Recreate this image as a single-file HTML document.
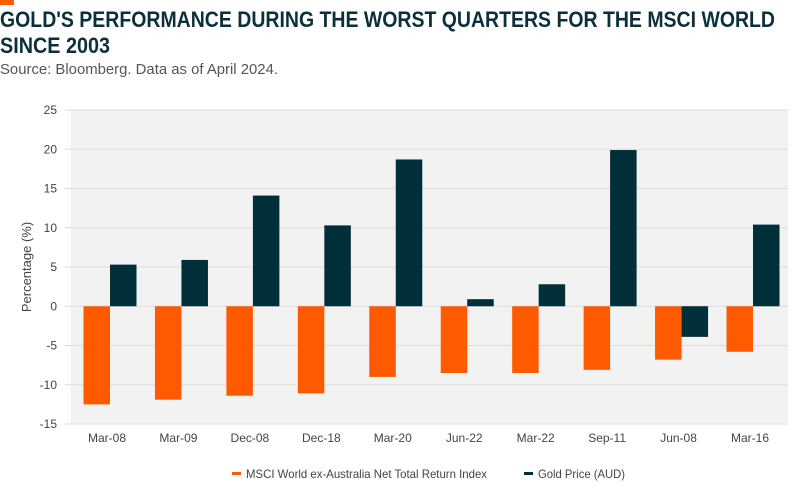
<!DOCTYPE html>
<html><head><meta charset="utf-8"><style>
body{margin:0;background:#fff;}
svg{display:block;font-family:"Liberation Sans",sans-serif;}
</style></head><body>
<svg id="c" width="800" height="500" viewBox="0 0 800 500">
<rect x="0" y="0" width="14" height="5" fill="#ff5a00"/>
<text x="0" y="27" font-size="22" font-weight="bold" fill="#0d2f3a" font-family="Liberation Sans Narrow, Liberation Sans, sans-serif" textLength="775" lengthAdjust="spacingAndGlyphs">GOLD'S PERFORMANCE DURING THE WORST QUARTERS FOR THE MSCI WORLD</text>
<text x="0" y="53" font-size="22" font-weight="bold" fill="#0d2f3a" font-family="Liberation Sans Narrow, Liberation Sans, sans-serif" textLength="110" lengthAdjust="spacingAndGlyphs">SINCE 2003</text>
<text x="0" y="74" font-size="15" fill="#555" textLength="278" lengthAdjust="spacingAndGlyphs">Source: Bloomberg. Data as of April 2024.</text>
<rect x="71" y="110" width="717" height="314" fill="#f2f2f2"/>
<g id="grid"></g>
<g id="bars"></g>
<g id="xl"></g>
<text transform="translate(31,267) rotate(-90)" text-anchor="middle" font-size="13" fill="#444">Percentage (%)</text>
<rect x="232" y="472" width="9" height="3" fill="#ff5a00"/>
<text x="246" y="478" font-size="12" fill="#444" textLength="241" lengthAdjust="spacingAndGlyphs">MSCI World ex-Australia Net Total Return Index</text>
<rect x="524" y="472" width="9" height="3" fill="#002f3a"/>
<text x="538" y="478" font-size="12" fill="#444" textLength="87" lengthAdjust="spacingAndGlyphs">Gold Price (AUD)</text>
</svg>
<script>
const categories=["Mar-08","Mar-09","Dec-08","Dec-18","Mar-20","Jun-22","Mar-22","Sep-11","Jun-08","Mar-16"];
const msciValues=[-12.5,-11.9,-11.4,-11.1,-9.0,-8.5,-8.5,-8.1,-6.8,-5.8];
const goldValues=[5.3,5.9,14.1,10.3,18.7,0.9,2.8,19.9,-3.9,10.4];
const yTicks=[25,20,15,10,5,0,-5,-10,-15];
const NS="http://www.w3.org/2000/svg";
const x0=71,x1=788,yTop=110,yBot=424,yMax=25,yMin=-15;
const pad=39,step=(x1-x0-2*pad+4)/(categories.length-1);
function y(v){return yTop+(yMax-v)/(yMax-yMin)*(yBot-yTop);}
function xc(i){return x0+pad+step*i;}
function mk(tag,attrs,parent){const e=document.createElementNS(NS,tag);for(const k in attrs)e.setAttribute(k,attrs[k]);parent.appendChild(e);return e;}
const grid=document.getElementById('grid'),bars=document.getElementById('bars'),xl=document.getElementById('xl');
yTicks.forEach(t=>{
  const l=mk('line',{x1:65,x2:x1,y1:y(t),y2:y(t),stroke:'#dcdcdc','stroke-width':1},grid);
  
  
  const tx=mk('text',{x:57,y:y(t)+4,'text-anchor':'end','font-size':12,fill:'#444'},grid);
  tx.textContent=t;
  
  
});
const bw=26.5;
categories.forEach((c,i)=>{
  const cx=xc(i);
  const a=msciValues[i];
  const r1=mk('rect',{x:cx-bw,y:Math.min(y(a),y(0)),width:bw,height:Math.abs(y(a)-y(0)),fill:'#ff5a00'},bars);
  
  
  const g=goldValues[i];
  const r2=mk('rect',{x:cx,y:Math.min(y(g),y(0)),width:bw,height:Math.abs(y(g)-y(0)),fill:'#002f3a'},bars);
  
  
  const t=mk('text',{x:cx-3,y:442,'text-anchor':'middle','font-size':12,fill:'#444'},xl);
  t.textContent=c;
  
  
});
</script>
</body></html>
